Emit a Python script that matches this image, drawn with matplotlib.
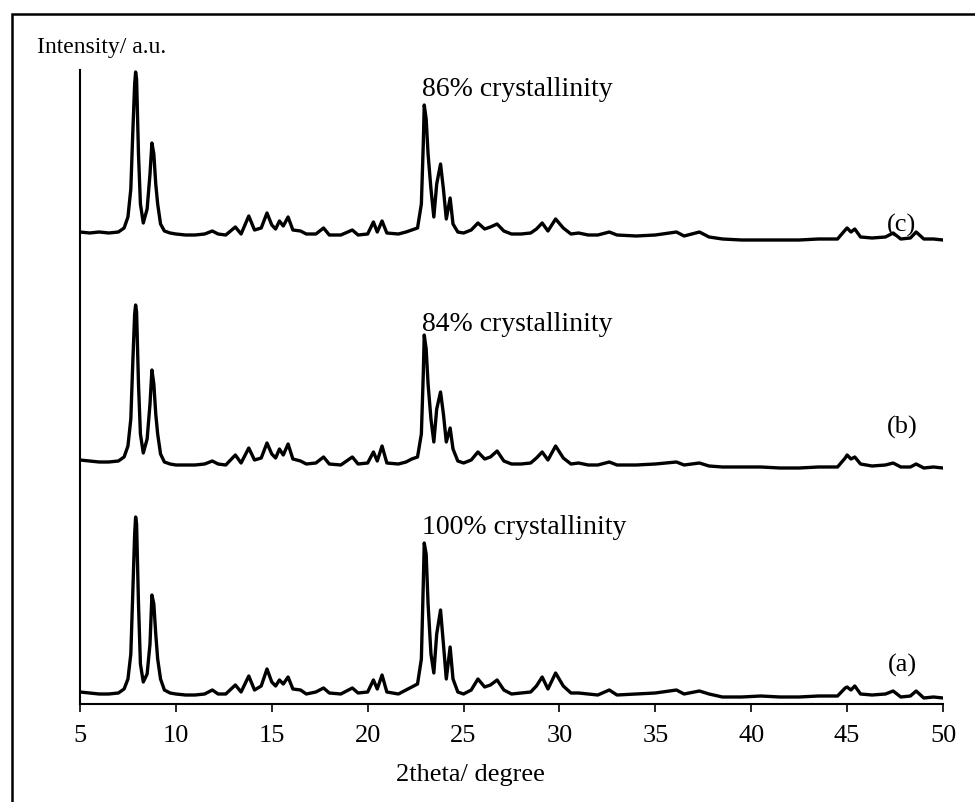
import matplotlib
matplotlib.use("Agg")
import matplotlib.pyplot as plt
from matplotlib.patches import Rectangle

plt.rcParams["font.family"] = ["Liberation Serif", "DejaVu Serif"]

# 2theta grid (degree)
two_theta = [
    5.0, 5.5, 6.0, 6.5, 7.0, 7.3, 7.5, 7.65, 7.75, 7.85,
    7.9, 7.95, 8.05, 8.15, 8.3, 8.5, 8.65, 8.75, 8.85, 8.95,
    9.05, 9.2, 9.4, 9.7, 10.0, 10.5, 11.0, 11.5, 11.9, 12.2,
    12.6, 13.1, 13.4, 13.8, 14.1, 14.45, 14.75, 15.0, 15.2, 15.4,
    15.6, 15.85, 16.1, 16.5, 16.8, 17.3, 17.7, 18.0, 18.6, 19.2,
    19.5, 20.0, 20.3, 20.5, 20.75, 21.0, 21.6, 22.0, 22.3, 22.6,
    22.8, 22.9, 22.95, 23.05, 23.15, 23.3, 23.45, 23.6, 23.8, 23.95,
    24.1, 24.3, 24.45, 24.7, 25.0, 25.4, 25.75, 26.1, 26.4, 26.75,
    27.1, 27.5, 28.0, 28.5, 28.8, 29.1, 29.4, 29.8, 30.2, 30.6,
    31.0, 31.5, 32.0, 32.6, 33.0, 34.0, 35.0, 36.1, 36.5, 37.3,
    37.8, 38.5, 39.5, 40.5, 41.5, 42.5, 43.5, 44.5, 44.9, 45.0,
    45.2, 45.4, 45.7, 46.3, 47.0, 47.4, 47.8, 48.3, 48.6, 49.0,
    49.5, 50.0,
]

# (a) 100% crystallinity
int_a = [
    12, 11, 10, 10, 11, 15, 25, 50, 110, 170,
    187, 180, 100, 40, 22, 30, 60, 109, 100, 70,
    45, 25, 14, 11, 10, 9, 9, 10, 14, 10,
    10, 19, 12, 28, 14, 18, 35, 22, 18, 24,
    20, 27, 15, 14, 10, 12, 16, 11, 10, 16,
    11, 12, 24, 15, 29, 12, 10, 14, 17, 20,
    45, 120, 161, 150, 100, 50, 31, 70, 94, 60,
    25, 57, 25, 12, 10, 14, 25, 17, 19, 24,
    14, 10, 11, 12, 18, 27, 15, 31, 18, 11,
    11, 10, 9, 14, 9, 10, 11, 14, 10, 13,
    10, 7, 7, 8, 7, 7, 8, 8, 16, 17,
    14, 18, 10, 9, 10, 13, 7, 8, 13, 6,
    7, 6,
]

# (b) 84% crystallinity
int_b = [
    14, 13, 12, 12, 13, 17, 28, 55, 110, 160,
    169, 162, 90, 40, 21, 35, 70, 104, 90, 60,
    40, 20, 12, 10, 9, 9, 9, 10, 13, 10,
    9, 19, 11, 26, 14, 16, 31, 20, 16, 25,
    19, 30, 15, 13, 10, 11, 17, 10, 9, 17,
    10, 11, 22, 13, 28, 11, 10, 12, 15, 17,
    40, 100, 139, 125, 90, 55, 32, 65, 82, 60,
    32, 46, 25, 13, 11, 14, 22, 15, 17, 23,
    13, 10, 10, 11, 16, 22, 14, 28, 16, 10,
    11, 9, 9, 12, 9, 9, 10, 12, 9, 11,
    8, 7, 7, 7, 6, 6, 7, 7, 16, 19,
    15, 17, 10, 8, 9, 11, 7, 7, 10, 6,
    7, 6,
]

# (c) 86% crystallinity
int_c = [
    12, 11, 12, 11, 12, 16, 27, 55, 110, 160,
    172, 165, 90, 40, 21, 35, 70, 101, 90, 60,
    40, 20, 13, 11, 10, 9, 9, 10, 13, 10,
    9, 17, 10, 28, 14, 16, 31, 19, 15, 23,
    18, 27, 14, 13, 10, 10, 16, 9, 9, 14,
    9, 10, 22, 12, 23, 11, 10, 12, 14, 16,
    40, 100, 139, 125, 90, 55, 27, 60, 80, 55,
    25, 46, 20, 12, 11, 14, 21, 15, 17, 20,
    13, 10, 10, 11, 15, 21, 13, 25, 16, 10,
    11, 9, 9, 12, 9, 8, 9, 12, 8, 12,
    7, 5, 4, 4, 4, 4, 5, 5, 14, 16,
    12, 15, 7, 6, 7, 11, 5, 6, 12, 5,
    5, 4,
]

series = [int_a, int_b, int_c]
offsets = [0, 230, 460]
trace_labels = ["(a)", "(b)", "(c)"]
crystallinity = ["100% crystallinity", "84% crystallinity", "86% crystallinity"]

for s in series:
    assert len(s) == len(two_theta)

fig = plt.figure(figsize=(9.75, 8.02), dpi=100)
ax = fig.add_axes([80 / 975, 1 - 704 / 802, (943 - 80) / 975, (704 - 70) / 802])

for s, off in zip(series, offsets):
    ax.plot(two_theta, [v + off for v in s], color="black", lw=2.4,
            solid_joinstyle="round")

# sample labels and crystallinity notes
label_y = [39, 277, 479]
note_y = [176, 379, 614]
for lab, ly in zip(trace_labels, label_y):
    ax.text(47.86, ly, lab, fontsize=19, ha="center", va="center")
for note, ny in zip(crystallinity, note_y):
    ax.text(22.85, ny, note, fontsize=20, ha="left", va="center")

ax.set_xlim(5, 50)
ax.set_ylim(0, 634)
ax.set_xticks(range(5, 51, 5))
ax.set_yticks([])
ax.tick_params(axis="x", direction="out", length=6, width=1.2, pad=9, labelsize=19)
for side in ["top", "right"]:
    ax.spines[side].set_visible(False)
ax.spines["left"].set_linewidth(1.5)
ax.spines["bottom"].set_linewidth(1.5)

fig.text(37 / 975, 1 - 48 / 802, "Intensity/ a.u.", fontsize=17, ha="left", va="center")
fig.text(470 / 975, 1 - 775 / 802, "2theta/ degree", fontsize=19, ha="center", va="center")

# page frame (only top and left edges are inside the picture)
fig.patches.append(Rectangle((12 / 975, -0.2), 1.5, 0.2 + 1 - 14 / 802,
                             transform=fig.transFigure, fill=False,
                             edgecolor="black", lw=1.8))

plt.savefig("out.png", dpi=100)
plt.close()
